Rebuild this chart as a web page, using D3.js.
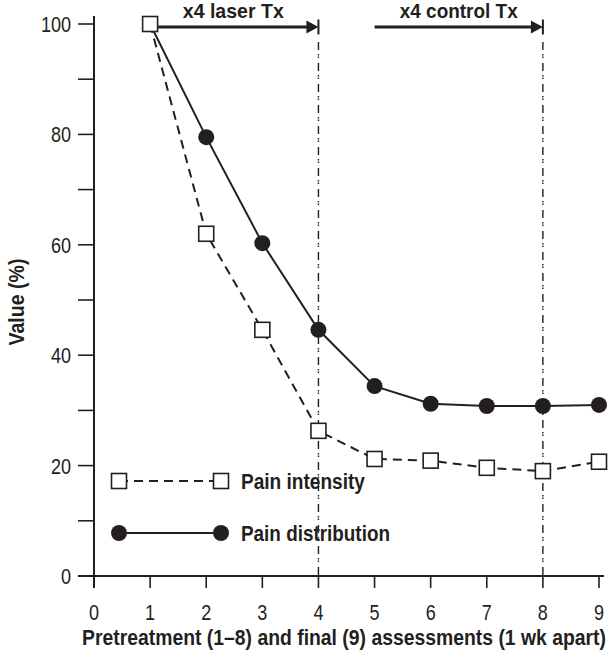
<!DOCTYPE html>
<html><head><meta charset="utf-8">
<script src="https://cdn.jsdelivr.net/npm/d3@7"></script>
<style>
body{margin:0;background:#fff;}
svg text{font-family:"Liberation Sans",Arial,sans-serif;fill:#231f20;}
</style></head>
<body><svg id="c" width="615" height="657"></svg>
<script>
const assessments = [1,2,3,4,5,6,7,8,9];
const painIntensity = [100,62.0,44.6,26.3,21.2,20.9,19.6,19.0,20.7];
const painDistribution = [100,79.5,60.3,44.6,34.4,31.2,30.8,30.8,31.0];
const xTicks = [0,1,2,3,4,5,6,7,8,9];
const yTicks = [0,10,20,30,40,50,60,70,80,90,100];
const yLabels = [0,20,40,60,80,100];
const refLines = [4,8];
const phases = [{label:"x4 laser Tx", from:1, to:4},{label:"x4 control Tx", from:5, to:8}];
const legendItems = ["Pain intensity","Pain distribution"];

const ink = "#231f20";
const svg = d3.select("#c");
const x = d3.scaleLinear().domain([0,9]).range([94,599]);
const y = d3.scaleLinear().domain([0,100]).range([576,24]);

// place a text at (px,py) and squeeze it horizontally to a given width via transform
function placeFit(sel, px, py, width, rotate){
  sel.each(function(){
    const w = this.getComputedTextLength();
    const k = width / w;
    d3.select(this).attr("x",0).attr("y",0)
      .attr("transform", `translate(${px},${py})` + (rotate?` rotate(${rotate})`:"") + ` scale(${k},1)`);
  });
}
function condense(sel, factor, pxf, pyf){
  sel.each(function(d,i){
    const px = pxf(d,i), py = pyf(d,i);
    d3.select(this).attr("x",0).attr("y",0).attr("transform",`translate(${px},${py}) scale(${factor},1)`);
  });
}

// axes lines
svg.append("line").attr("x1",78).attr("x2",604).attr("y1",y(0)).attr("y2",y(0)).attr("stroke",ink).attr("stroke-width",2);
svg.append("line").attr("x1",x(0)).attr("x2",x(0)).attr("y1",16).attr("y2",588).attr("stroke",ink).attr("stroke-width",2);

// y ticks
svg.selectAll(".yt").data(yTicks).enter().append("line")
  .attr("x1",78).attr("x2",x(0)).attr("y1",d=>y(d)).attr("y2",d=>y(d)).attr("stroke",ink).attr("stroke-width",1.6);
const yl = svg.selectAll(".yl").data(yLabels).enter().append("text")
  .attr("dy","0.36em").attr("text-anchor","end").attr("font-size",22).text(d=>d);
condense(yl, 0.82, ()=>71, d=>y(d));

// x ticks
svg.selectAll(".xt").data(xTicks).enter().append("line")
  .attr("x1",d=>x(d)).attr("x2",d=>x(d)).attr("y1",y(0)).attr("y2",588).attr("stroke",ink).attr("stroke-width",1.6);
const xl = svg.selectAll(".xl").data(xTicks).enter().append("text")
  .attr("text-anchor","middle").attr("font-size",22).text(d=>d);
condense(xl, 0.82, d=>x(d), ()=>620);

// axis titles
placeFit(svg.append("text").attr("text-anchor","middle")
  .attr("font-size",22).attr("font-weight","bold").text("Pretreatment (1–8) and final (9) assessments (1 wk apart)"), 344, 645, 524);
placeFit(svg.append("text").attr("text-anchor","middle")
  .attr("font-size",22).attr("font-weight","bold").text("Value (%)"), 24, 302, 87, -90);

// reference lines
svg.selectAll(".ref").data(refLines).enter().append("line")
  .attr("x1",d=>x(d)).attr("x2",d=>x(d)).attr("y1",42).attr("y2",y(0))
  .attr("stroke",ink).attr("stroke-width",1.4).attr("stroke-dasharray","8,4,1.5,1,1.5,5");

// phase arrows
const ph = svg.selectAll(".ph").data(phases).enter().append("g");
ph.append("line").attr("x1",d=>x(d.from)+(d.from===1?8:0)).attr("x2",d=>x(d.to)-8).attr("y1",27).attr("y2",27)
  .attr("stroke",ink).attr("stroke-width",3);
ph.append("path").attr("d",d=>`M${x(d.to)-12},20.5L${x(d.to)},27L${x(d.to)-12},33.5Z`).attr("fill",ink);
ph.append("line").attr("x1",d=>x(d.to)).attr("x2",d=>x(d.to)).attr("y1",19.5).attr("y2",34.5).attr("stroke",ink).attr("stroke-width",2);
ph.each(function(d,i){
  const t = d3.select(this).append("text").attr("text-anchor","middle")
    .attr("font-size",21).attr("font-weight","bold").text(d.label);
  placeFit(t, (x(d.from)+x(d.to))/2 - (i===0?1:0), 17.5, i===0?101:118);
});

// lines
const line = d3.line().x((d,i)=>x(assessments[i])).y(d=>y(d));
svg.append("path").attr("d",line(painDistribution)).attr("fill","none").attr("stroke",ink).attr("stroke-width",2);
svg.append("path").attr("d",line(painIntensity)).attr("fill","none").attr("stroke",ink).attr("stroke-width",2).attr("stroke-dasharray","9,6");

// markers
svg.selectAll(".cir").data(painDistribution).enter().append("circle")
  .attr("cx",(d,i)=>x(assessments[i])).attr("cy",d=>y(d)).attr("r",8).attr("fill",ink);
const s = 15;
svg.selectAll(".sq").data(painIntensity).enter().append("rect")
  .attr("x",(d,i)=>x(assessments[i])-s/2).attr("y",d=>y(d)-s/2).attr("width",s).attr("height",s)
  .attr("fill","#fff").attr("stroke",ink).attr("stroke-width",1.6);

// legend
const lx1 = 119, lx2 = 221, ly = [481,533];
svg.append("line").attr("x1",lx1).attr("x2",lx2).attr("y1",ly[0]).attr("y2",ly[0]).attr("stroke",ink).attr("stroke-width",2).attr("stroke-dasharray","9,6");
[lx1,lx2].forEach(px=>svg.append("rect").attr("x",px-s/2).attr("y",ly[0]-s/2).attr("width",s).attr("height",s).attr("fill","#fff").attr("stroke",ink).attr("stroke-width",1.6));
svg.append("line").attr("x1",lx1).attr("x2",lx2).attr("y1",ly[1]).attr("y2",ly[1]).attr("stroke",ink).attr("stroke-width",2);
[lx1,lx2].forEach(px=>svg.append("circle").attr("cx",px).attr("cy",ly[1]).attr("r",8).attr("fill",ink));
const lg = svg.selectAll(".lg").data(legendItems).enter().append("text")
  .attr("dy","0.36em").attr("font-size",22).attr("font-weight","bold").text(d=>d);
lg.each(function(d,i){ placeFit(d3.select(this), 241, ly[i], i===0?124:149); });
</script></body></html>
